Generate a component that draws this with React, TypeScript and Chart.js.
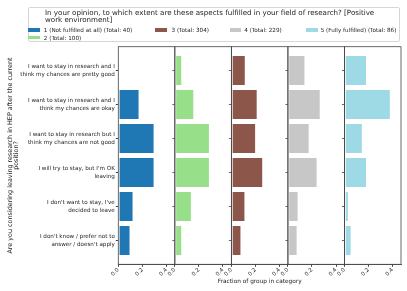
import React, { useEffect, useRef } from "react";
import { Chart, registerables } from "chart.js";

Chart.register(...registerables);

const FONT = "DejaVu Sans";

// ---- data ----
const categories: string[][] = [
  ["I want to stay in research and I", "think my chances are pretty good"],
  ["I want to stay in research and I", "think my chances are okay"],
  ["I want to stay in research but I", "think my chances are not good"],
  ["I will try to stay, but I'm OK", "leaving"],
  ["I don't want to stay, I've", "decided to leave"],
  ["I don't know / prefer not to", "answer / doesn't apply"],
];

const level1 = [0, 0.175, 0.3, 0.3, 0.125, 0.1];
const level2 = [0.06, 0.16, 0.29, 0.29, 0.14, 0.06];
const level3 = [0.118, 0.217, 0.204, 0.263, 0.115, 0.082];
const level4 = [0.144, 0.271, 0.179, 0.245, 0.087, 0.079];
const level5 = [0.186, 0.384, 0.151, 0.186, 0.035, 0.058];

const seriesLabels = [
  "1 (Not fulfilled at all) (Total: 40)",
  "2 (Total: 100)",
  "3 (Total: 304)",
  "4 (Total: 229)",
  "5 (Fully fulfilled) (Total: 86)",
];

const xTicks = [0, 0.2, 0.4];
const xMax = 0.47;

const legendTitle = [
  "In your opinion, to which extent are these aspects fulfilled in your field of research? [Positive",
  "work environment]",
];
const yTitle = ["Are you considering leaving research in HEP after the current", "position?"];
const xTitle = "Fraction of group in category";

const colors = ["#1f77b4", "#98df8a", "#8c564b", "#c7c7c7", "#9edae5"];

export default function App() {
  const ref = useRef<HTMLCanvasElement>(null);

  useEffect(() => {
    const panels = [level1, level2, level3, level4, level5];
    const scales: any = {
      y: {
        type: "linear",
        reverse: true,
        min: -0.7,
        max: 5.7,
        offset: false,
        afterBuildTicks: (s: any) => {
          s.ticks = categories.map((_, i) => ({ value: i }));
        },
        afterFit: (s: any) => {
          s.width = 118.3;
        },
        ticks: {
          autoSkip: false,
          callback: (v: any) => categories[v] ?? "",
          font: { family: FONT, size: 5.6, lineHeight: 1.3 },
          color: "#222",
          padding: 1,
        },
        grid: { drawOnChartArea: false, drawTicks: true, tickLength: 2.5, color: "#444", offset: false },
        border: { display: false },
        title: {
          display: true,
          text: yTitle,
          font: { family: FONT, size: 6.4, lineHeight: 1.05 },
          color: "#222",
          padding: { top: 6.6, bottom: 0 },
        },
      },
    };
    panels.forEach((_, k) => {
      scales["x" + k] = {
        type: "linear",
        axis: "x",
        position: "bottom",
        stack: "panels",
        stackWeight: 1,
        min: 0,
        max: xMax,
        afterBuildTicks: (s: any) => {
          s.ticks = xTicks.map((v) => ({ value: v }));
        },
        afterFit: (s: any) => {
          s.height = 26.7;
        },
        ticks: {
          autoSkip: false,
          minRotation: 45,
          maxRotation: 45,
          callback: (v: any) => Number(v).toFixed(1),
          font: { family: FONT, size: 5.5 },
          color: "#222",
          padding: 0,
        },
        grid: { drawOnChartArea: false, drawTicks: true, tickLength: 2.5, color: "#444" },
        border: { display: true, color: "#444", width: 0.8 },
        title: { display: false },
      };
    });

    const spines = {
      id: "spines",
      afterDatasetsDraw(chart: any) {
        const { ctx, chartArea } = chart;
        const ys = chart.scales.y;
        ctx.save();
        ctx.strokeStyle = "#444";
        ctx.lineWidth = 0.8;
        panels.forEach((_, k) => {
          const s = chart.scales["x" + k];
          ctx.strokeRect(s.left, chartArea.top, s.right - s.left, chartArea.bottom - chartArea.top);
          if (k > 0) {
            categories.forEach((_, i) => {
              const py = ys.getPixelForValue(i);
              ctx.beginPath();
              ctx.moveTo(s.left - 2.5, py);
              ctx.lineTo(s.left, py);
              ctx.stroke();
            });
          }
        });
        ctx.fillStyle = "#222";
        ctx.font = `5.8px "${FONT}"`;
        ctx.textAlign = "center";
        ctx.textBaseline = "middle";
        ctx.fillText(xTitle, (chartArea.left + chartArea.right) / 2, chart.height - 10);
        ctx.restore();
      },
    };

    const chart = new Chart(ref.current!, {
      type: "bar",
      data: {
        datasets: panels.map((vals, k) => ({
          label: seriesLabels[k],
          data: vals.map((v, i) => ({ x: v, y: i })),
          xAxisID: "x" + k,
          yAxisID: "y",
          backgroundColor: colors[k],
          borderColor: "rgba(255,255,255,0.55)",
          borderWidth: 0.8,
          borderSkipped: false,
          grouped: false,
          categoryPercentage: 1,
          barPercentage: 0.9,
        })) as any,
      },
      options: {
        indexAxis: "y",
        animation: false,
        responsive: false,
        maintainAspectRatio: false,
        layout: { padding: { top: 46.7, right: 6, bottom: 0, left: 0 } },
        plugins: { legend: { display: false }, tooltip: { enabled: false } },
        scales,
      } as any,
      plugins: [spines],
    });
    return () => chart.destroy();
  }, []);

  const legendCols = [
    { items: [0, 1], swatch: 28.3, text: 43.8 },
    { items: [2], swatch: 155, text: 171.5 },
    { items: [3], swatch: 229.5, text: 244.3 },
    { items: [4], swatch: 306, text: 320.7 },
  ];
  const rowY = [30, 37.7];

  return (
    <div style={{ position: "fixed", left: 0, top: 0, width: 407, height: 291, background: "#fff" }}>
      <canvas ref={ref} width={407} height={291} style={{ position: "absolute", left: 0, top: 0 }} />
      <div
        style={{
          position: "absolute",
          left: 27.5,
          top: 6.8,
          width: 372.5,
          height: 35.5,
          boxSizing: "border-box",
          border: "1px solid #d6d6d6",
          borderRadius: 2,
          background: "rgba(255,255,255,0.85)",
        }}
      />
      {legendTitle.map((t, i) => (
        <div
          key={"t" + i}
          style={{
            position: "absolute",
            left: 45,
            top: (i === 0 ? 12.7 : 20) - 4,
            height: 8,
            lineHeight: "8px",
            fontFamily: FONT,
            fontSize: 7.1,
            color: "#222",
            whiteSpace: "nowrap",
          }}
        >
          {t}
        </div>
      ))}
      {legendCols.map((c) =>
        c.items.map((idx, r) => (
          <React.Fragment key={"l" + idx}>
            <div
              style={{
                position: "absolute",
                left: c.swatch,
                top: rowY[r] - 1.8,
                width: 11.5,
                height: 3.6,
                background: colors[idx],
              }}
            />
            <div
              style={{
                position: "absolute",
                left: c.text,
                top: rowY[r] - 4,
                height: 8,
                lineHeight: "8px",
                fontFamily: FONT,
                fontSize: 5.65,
                color: "#222",
                whiteSpace: "nowrap",
              }}
            >
              {seriesLabels[idx]}
            </div>
          </React.Fragment>
        ))
      )}
    </div>
  );
}
